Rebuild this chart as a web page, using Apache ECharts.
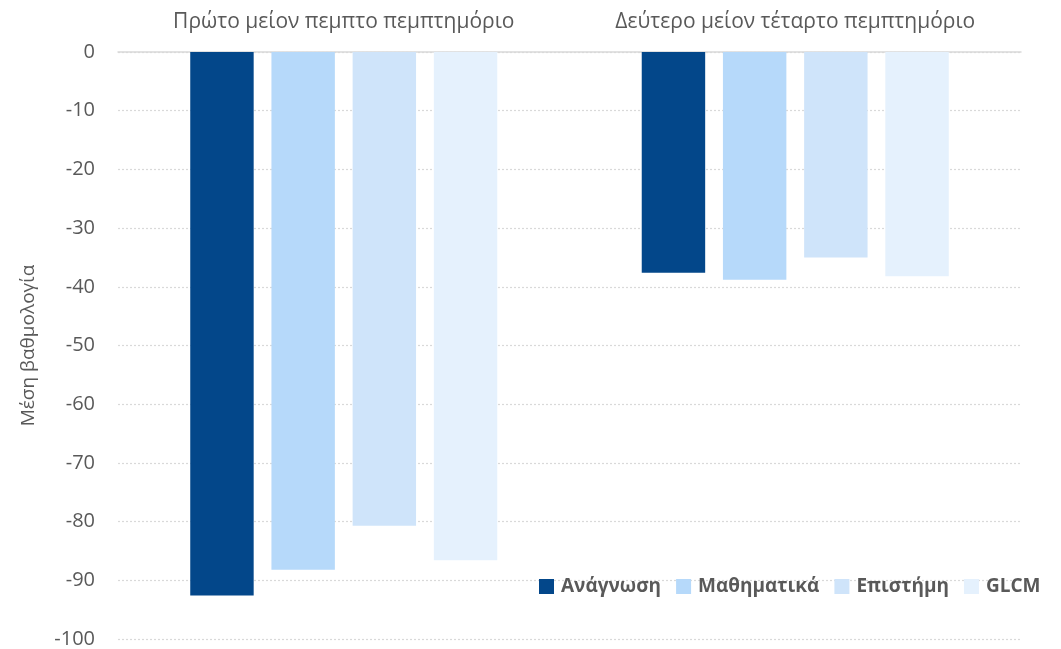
<!DOCTYPE html>
<html><head><meta charset="utf-8">
<script src="https://cdn.jsdelivr.net/npm/echarts@6/dist/echarts.min.js"></script>
<style>html,body{margin:0;padding:0;background:#fff}#c{width:1061px;height:649px}</style>
</head><body><div id="c"></div>
<script>
const categories = ['Πρώτο μείον πεμπτο πεμπτημόριο', 'Δεύτερο μείον τέταρτο πεμπτημόριο'];
const seriesNames = ['Ανάγνωση', 'Μαθηματικά', 'Επιστήμη', 'GLCM'];
const reading = [-92.6, -37.6];
const maths = [-88.2, -38.8];
const science = [-80.7, -35.0];
const glcm = [-86.6, -38.2];
const colors = ['#03478A', '#B6D9FA', '#CFE4FA', '#E5F1FD'];
const values = [reading, maths, science, glcm];
const font = '"Open Sans", "Noto Sans", sans-serif';
const chart = echarts.init(document.getElementById('c'));
chart.setOption({
  animation: false,
  color: colors,
  grid: {left: 118, right: 40, top: 52, bottom: 9, containLabel: false},
  legend: {
    left: 534, top: 572, itemWidth: 15, itemHeight: 15, itemGap: 15, icon: 'rect',
    textStyle: {fontFamily: font, fontSize: 19, fontWeight: 'bold', color: '#595959', padding: [0,0,0,2]},
    data: seriesNames
  },
  xAxis: {
    type: 'category', position: 'top', data: categories,
    axisLine: {show: true, lineStyle: {color: '#d9d9d9', width: 1.5}},
    axisTick: {show: false},
    axisLabel: {interval: 0, fontFamily: font, fontSize: 21, color: '#595959', margin: 19}
  },
  yAxis: {
    type: 'value', min: -100, max: 0, interval: 10,
    name: 'Μέση βαθμολογία', nameLocation: 'middle', nameGap: 80, nameRotate: 90,
    nameTextStyle: {fontFamily: font, fontSize: 19, color: '#595959'},
    axisLine: {show: false}, axisTick: {show: false},
    axisLabel: {fontFamily: font, fontSize: 20, color: '#595959', margin: 23},
    splitLine: {lineStyle: {color: '#d9d9d9', type: [2, 2], width: 1.2}}
  },
  series: seriesNames.map((n, i) => ({
    name: n, type: 'bar', data: values[i],
    barGap: '28%', barCategoryGap: '32%',
    itemStyle: {color: colors[i]}
  }))
});
</script></body></html>
